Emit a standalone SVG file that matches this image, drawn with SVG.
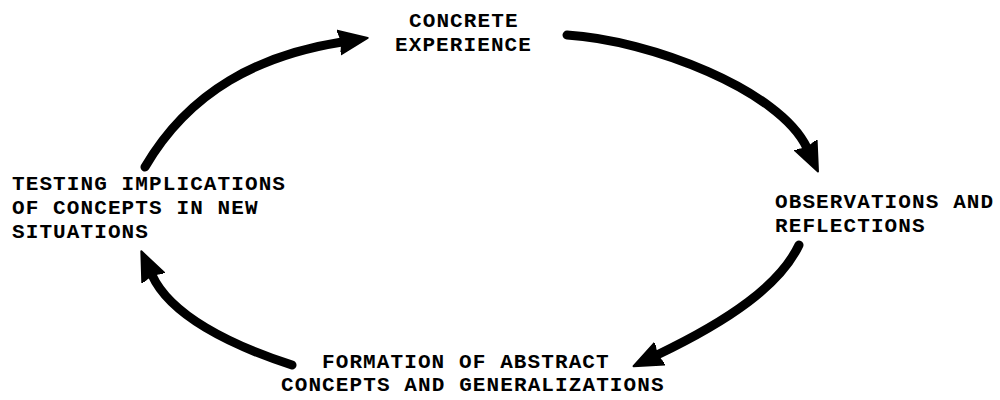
<svg xmlns="http://www.w3.org/2000/svg" width="1000" height="400" viewBox="0 0 1000 400">
<style>
  .lbl { font-family: "Liberation Mono", "DejaVu Sans Mono", monospace; font-size: 21px; font-weight: bold; letter-spacing: 1.1px; fill: #000; }
  .arc { fill: none; stroke: #000; stroke-width: 9; stroke-linecap: round; }
</style>
<defs>
  <marker id="head" viewBox="0 -14 32 28" refX="3" refY="0" markerWidth="32" markerHeight="28" markerUnits="userSpaceOnUse" orient="auto">
    <path d="M0,-12 L29,0 L0,12 Q5,0 0,-12 Z" fill="#000" stroke="#000" stroke-width="2" stroke-linejoin="round"/>
  </marker>
</defs>
<rect width="1000" height="400" fill="#fff"/>
<g id="connectors">
  <path class="arc" d="M567,35 C650,40 780,90 807,148" marker-end="url(#head)"/>
  <path class="arc" d="M799,245 C780,285 730,320 657,355" marker-end="url(#head)"/>
  <path class="arc" d="M292,365 C230,345 170,315 152,275" marker-end="url(#head)"/>
  <path class="arc" d="M145,167 C190,90 260,55 342,42" marker-end="url(#head)"/>
</g>
<g id="concrete-experience">
  <text class="lbl" x="409" y="27">CONCRETE</text>
  <text class="lbl" x="395" y="51">EXPERIENCE</text>
</g>
<g id="observations-reflections">
  <text class="lbl" x="775" y="208">OBSERVATIONS AND</text>
  <text class="lbl" x="775" y="232">REFLECTIONS</text>
</g>
<g id="formation-abstract-concepts">
  <text class="lbl" x="322" y="368">FORMATION OF ABSTRACT</text>
  <text class="lbl" x="281" y="391">CONCEPTS AND GENERALIZATIONS</text>
</g>
<g id="testing-implications">
  <text class="lbl" x="12" y="190">TESTING IMPLICATIONS</text>
  <text class="lbl" x="12" y="214">OF CONCEPTS IN NEW</text>
  <text class="lbl" x="12" y="238">SITUATIONS</text>
</g>
</svg>
